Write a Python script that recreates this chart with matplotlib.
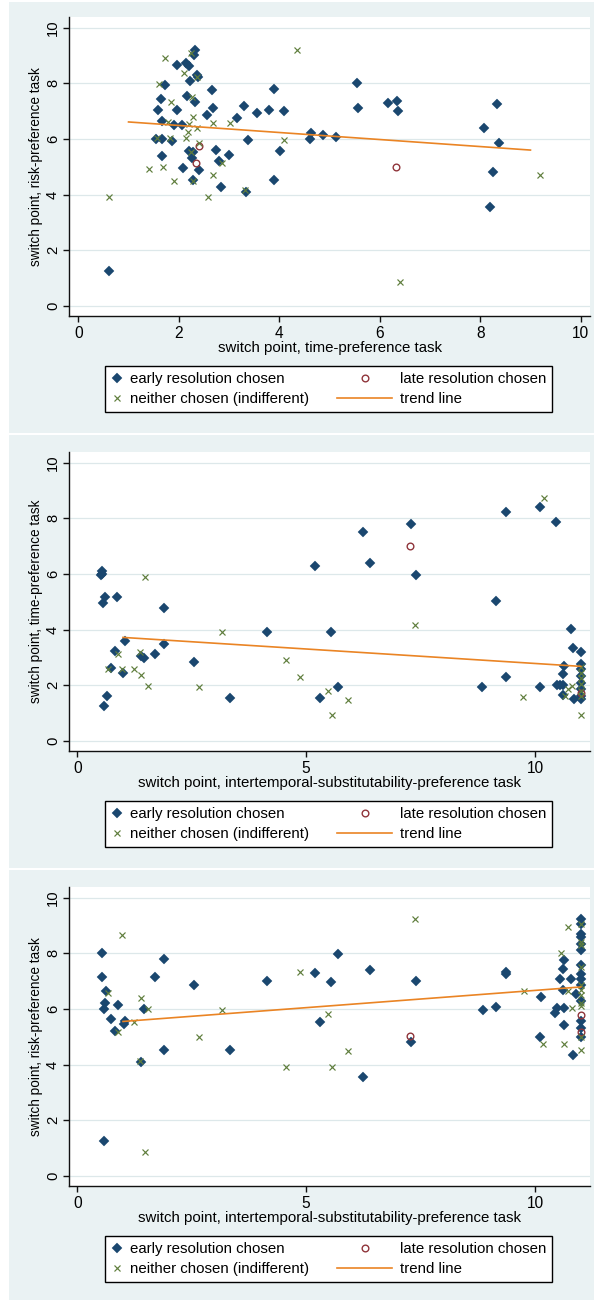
import matplotlib
matplotlib.use("Agg")
import matplotlib.pyplot as plt
from matplotlib.patches import Rectangle
from matplotlib.legend_handler import HandlerLine2D

plt.rcParams['font.family'] = ['Liberation Sans', 'DejaVu Sans']

# ---------------- data ----------------
# Panel 1: time-preference switch point (x) vs risk-preference switch point (y)
p1_early_x = [0.61, 2.33, 2.31, 1.97, 2.14, 2.20, 2.36, 2.39, 2.23, 1.72, 2.66, 3.90, 5.54, 2.16, 1.64,
              2.33, 6.17, 6.35, 8.33, 1.59, 1.96, 2.69, 3.29, 3.55, 3.80, 4.09, 5.56, 6.37, 2.57, 3.16,
              1.67, 1.91, 2.06, 8.08, 1.55, 1.66, 1.86, 3.38, 4.62, 4.63, 4.87, 5.12, 8.38, 2.74, 2.20,
              2.28, 4.01, 1.67, 2.99, 2.26, 2.81, 2.08, 2.40, 8.26, 2.28, 3.89, 2.85, 3.33, 8.20]
p1_early_y = [1.24, 9.19, 9.01, 8.65, 8.71, 8.61, 8.31, 8.23, 8.09, 7.95, 7.74, 7.79, 8.00, 7.56, 7.43,
              7.32, 7.30, 7.38, 7.25, 7.03, 7.03, 7.12, 7.20, 6.94, 7.03, 6.99, 7.12, 6.99, 6.85, 6.77,
              6.64, 6.50, 6.50, 6.41, 6.00, 6.00, 5.92, 5.97, 5.98, 6.20, 6.15, 6.06, 5.84, 5.62, 5.57,
              5.53, 5.57, 5.39, 5.43, 5.30, 5.22, 4.96, 4.90, 4.82, 4.51, 4.51, 4.29, 4.08, 3.54]
p1_late_x = [2.40, 2.35, 6.32]
p1_late_y = [5.74, 5.13, 5.00]
p1_neither_x = [0.62, 4.35, 1.73, 2.25, 2.11, 2.37, 1.61, 1.85, 2.27, 2.29, 1.78, 2.21, 2.68, 3.02, 2.36, 2.19,
                2.14, 1.82, 1.56, 2.40, 4.10, 2.24, 2.87, 1.41, 1.68, 2.68, 1.91, 2.29, 2.58, 3.32, 9.18, 6.41]
p1_neither_y = [3.91, 9.21, 8.91, 9.08, 8.37, 8.23, 7.98, 7.33, 7.49, 6.78, 6.61, 6.53, 6.57, 6.57, 6.40, 6.26,
                6.05, 6.02, 6.02, 5.84, 5.95, 5.54, 5.14, 4.93, 4.98, 4.71, 4.49, 4.49, 3.92, 4.15, 4.71, 0.87]
p1_trend_x = [1, 9]
p1_trend_y = [6.61, 5.60]

# Panel 2: intertemporal-substitutability switch point (x) vs time-preference switch point (y)
p2_early_x = [0.54, 0.55, 0.52, 0.61, 0.57, 0.87, 1.90, 0.58, 0.64, 0.74, 0.82, 1.01, 1.04, 1.39, 1.45,
              1.69, 1.90, 2.55, 3.33, 4.14, 5.19, 5.31, 5.54, 5.70, 6.24, 6.39, 7.30, 7.39, 8.85, 9.14,
              9.37, 9.37, 10.11, 10.45, 10.10, 10.78, 10.82, 10.64, 10.60, 10.47, 10.54, 10.60, 10.60, 10.85,
              11, 11, 11, 11, 11, 11, 11, 11]
p2_early_y = [5.98, 6.10, 5.95, 5.18, 4.95, 5.18, 4.79, 1.26, 1.62, 2.62, 3.24, 2.44, 3.60, 3.06, 2.98,
              3.12, 3.50, 2.85, 1.54, 3.93, 6.28, 1.54, 3.93, 1.93, 7.51, 6.41, 7.81, 5.96, 1.93, 5.04,
              8.21, 2.31, 8.39, 7.85, 1.95, 4.04, 3.34, 2.71, 2.41, 2.01, 2.01, 2.01, 1.65, 1.49,
              3.18, 2.75, 2.60, 2.35, 2.10, 1.85, 1.60, 1.50]
p2_late_x = [7.26, 11]
p2_late_y = [7.02, 1.73]
p2_neither_x = [0.67, 0.89, 0.97, 1.23, 1.38, 1.40, 1.49, 1.54, 2.67, 3.16, 4.55, 4.86, 5.47, 5.57, 5.91,
                7.38, 9.74, 10.19, 10.66, 10.72, 10.80, 11, 11, 11, 11, 11, 11, 11]
p2_neither_y = [2.57, 3.12, 2.60, 2.57, 3.19, 2.38, 5.90, 1.99, 1.94, 3.92, 2.91, 2.29, 1.81, 0.93, 1.47,
                4.18, 1.58, 8.71, 1.63, 1.85, 1.97, 2.65, 2.45, 2.25, 2.05, 1.80, 1.60, 0.92]
p2_trend_x = [1, 11]
p2_trend_y = [3.72, 2.68]

# Panel 3: intertemporal-substitutability switch point (x) vs risk-preference switch point (y)
p3_early_x = [0.53, 0.54, 0.63, 0.60, 0.58, 0.74, 0.88, 0.82, 1.02, 1.04, 0.58, 1.39, 1.45, 1.69, 1.90,
              1.90, 2.55, 3.33, 4.14, 5.19, 5.31, 5.54, 5.70, 6.24, 6.39, 7.30, 7.39, 8.86, 9.15, 9.37,
              9.37, 10.12, 10.10, 10.44, 10.49, 10.63, 10.55, 10.60, 10.63, 10.62, 10.64, 10.79, 10.82, 10.90,
              11, 11, 11, 11, 11, 11, 11, 11, 11, 11, 11, 11, 11, 11]
p3_early_y = [8.00, 7.13, 6.65, 6.21, 5.98, 5.63, 6.15, 5.22, 5.45, 5.57, 1.26, 4.08, 5.98, 7.13, 7.79,
              4.52, 6.85, 4.52, 6.99, 7.30, 5.54, 6.95, 7.97, 3.55, 7.39, 4.82, 6.99, 5.95, 6.07, 7.33,
              7.25, 6.43, 4.99, 5.87, 6.05, 6.05, 7.06, 7.44, 7.77, 6.67, 5.41, 7.06, 4.33, 6.52,
              9.24, 9.06, 8.70, 8.60, 8.34, 8.10, 7.59, 7.27, 7.06, 6.85, 6.30, 5.57, 5.32, 4.99]
p3_late_x = [7.26, 11, 11]
p3_late_y = [5.01, 5.77, 5.17]
p3_neither_x = [0.67, 0.97, 0.89, 1.23, 1.40, 1.38, 1.54, 1.49, 2.67, 3.16, 4.55, 4.86, 5.47, 5.57, 5.91,
                7.38, 9.75, 10.18, 10.57, 10.64, 10.71, 10.73, 10.80,
                11, 11, 11, 11, 11, 11, 11, 11, 11, 11, 11]
p3_neither_y = [6.59, 8.65, 5.16, 5.54, 6.40, 4.14, 6.00, 0.87, 5.00, 5.96, 3.92, 7.33, 5.81, 3.92, 4.50,
                9.22, 6.64, 4.73, 8.00, 4.73, 8.94, 6.63, 6.03,
                9.06, 8.40, 8.30, 7.50, 6.85, 6.67, 6.50, 6.23, 6.09, 4.99, 4.52]
p3_trend_x = [1, 11]
p3_trend_y = [5.55, 6.79]

x_labels = ["switch point, time-preference task",
            "switch point, intertemporal-substitutability-preference task",
            "switch point, intertemporal-substitutability-preference task"]
y_labels = ["switch point, risk-preference task",
            "switch point, time-preference task",
            "switch point, risk-preference task"]
x_ticks = [[0, 2, 4, 6, 8, 10], [0, 5, 10], [0, 5, 10]]
y_ticks = [0, 2, 4, 6, 8, 10]
legend_labels = ["early resolution chosen", "late resolution chosen",
                 "neither chosen (indifferent)", "trend line"]

panels = [
    (p1_early_x, p1_early_y, p1_late_x, p1_late_y, p1_neither_x, p1_neither_y, p1_trend_x, p1_trend_y),
    (p2_early_x, p2_early_y, p2_late_x, p2_late_y, p2_neither_x, p2_neither_y, p2_trend_x, p2_trend_y),
    (p3_early_x, p3_early_y, p3_late_x, p3_late_y, p3_neither_x, p3_neither_y, p3_trend_x, p3_trend_y),
]

# ---------------- style ----------------
W, H = 594, 1300
BG = '#eaf2f3'
GRID = '#dde8ea'
NAVY = '#1a476f'
MAROON = '#90353b'
GREEN = '#5f7d3c'
ORANGE = '#ea8424'
FS_H = 10.8   # horizontal text
FS_V = 9.8    # vertical text
FS_TICK_X = 11.2
FS_TICK_Y = 10.6

xlims = [(-0.185, 10.185), (-0.18, 11.2), (-0.18, 11.2)]
ylim = (-0.36, 10.38)
panel_off = [0, 435, 870]         # pixel offsets of each panel
bg_spans = [(2, 433), (435, 868), (870, 1300)]


class WideHandler(HandlerLine2D):
    """Legend handler drawing a handle extended to the left by `extra` points."""
    def __init__(self, extra, **kw):
        super().__init__(**kw)
        self.extra = extra

    def create_artists(self, legend, orig_handle, xdescent, ydescent, width, height, fontsize, trans):
        return super().create_artists(legend, orig_handle, xdescent + self.extra, ydescent,
                                      width + self.extra, height, fontsize, trans)


fig = plt.figure(figsize=(W / 100, H / 100), dpi=100, facecolor='white')

for (t, b) in bg_spans:
    fig.add_artist(Rectangle((9 / W, 1 - b / H), (W - 9) / W, (b - t) / H,
                             transform=fig.transFigure, facecolor=BG, edgecolor='none', zorder=-10))

for i, (ex, ey, lx, ly, nx, ny, tx, ty) in enumerate(panels):
    off = panel_off[i]
    top, bot, left, right = 17 + off, 316 + off, 69, 590
    ax = fig.add_axes([left / W, 1 - bot / H, (right - left) / W, (bot - top) / H])
    ax.set_facecolor('white')

    h_early, = ax.plot(ex, ey, linestyle='none', marker='D', markersize=4.9,
                       markerfacecolor=NAVY, markeredgecolor=NAVY, markeredgewidth=0.3, zorder=3)
    h_late, = ax.plot(lx, ly, linestyle='none', marker='o', markersize=4.8,
                      markerfacecolor='none', markeredgecolor=MAROON, markeredgewidth=1.0, zorder=4)
    h_neither, = ax.plot(nx, ny, linestyle='none', marker='x', markersize=5,
                         color=GREEN, markeredgewidth=0.85, zorder=5)
    h_trend, = ax.plot(tx, ty, color=ORANGE, linewidth=1.2, zorder=6)

    ax.set_xlim(*xlims[i])
    ax.set_ylim(*ylim)
    ax.set_xticks(x_ticks[i])
    ax.set_yticks(y_ticks)
    ax.grid(axis='y', color=GRID, linewidth=0.9)
    ax.set_axisbelow(True)
    for s in ['top', 'right']:
        ax.spines[s].set_visible(False)
    for s in ['left', 'bottom']:
        ax.spines[s].set_linewidth(1.0)
        ax.spines[s].set_color('#111111')
    ax.tick_params(axis='both', direction='out', length=4, width=1.0, color='#111111')
    ax.tick_params(axis='x', labelsize=FS_TICK_X, pad=3)
    ax.tick_params(axis='y', labelsize=FS_TICK_Y, pad=2.5, labelrotation=90)
    for lab in ax.get_yticklabels():
        lab.set_verticalalignment('center')
    ax.set_xlabel(x_labels[i], fontsize=FS_H, labelpad=0)
    ax.set_ylabel(y_labels[i], fontsize=FS_V, labelpad=2)

    lg_top = 366 + off
    leg = fig.legend([h_early, h_neither, h_late, h_trend],
                     [legend_labels[0], legend_labels[2], legend_labels[1], legend_labels[3]],
                     ncol=2, loc='upper left', mode='expand',
                     bbox_to_anchor=(105 / W, 1 - lg_top / H, 447 / W, 0),
                     bbox_transform=fig.transFigure, borderaxespad=0,
                     fontsize=FS_H, numpoints=1, handlelength=0.8, handletextpad=0.5,
                     borderpad=0.4, labelspacing=0.42, frameon=True, fancybox=False,
                     edgecolor='black', facecolor='white', framealpha=1,
                     handler_map={h_late: WideHandler(31), h_trend: WideHandler(31)})
    leg.get_frame().set_linewidth(1.0)

fig.savefig('out.png', dpi=100, facecolor='white')
